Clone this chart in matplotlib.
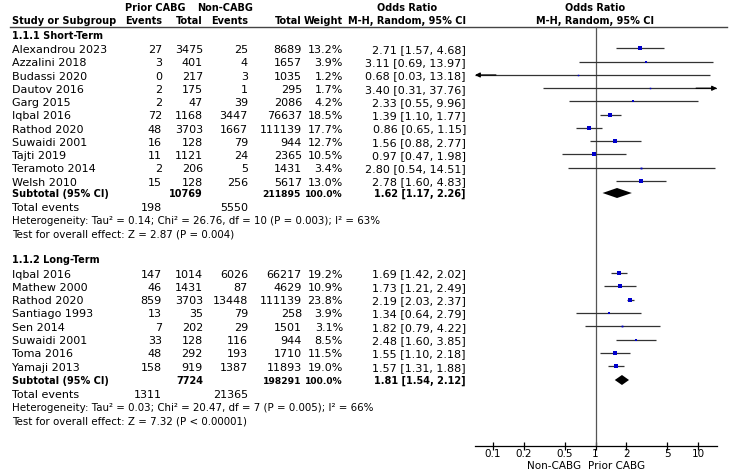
#!/usr/bin/env python3

import numpy as np
import matplotlib
matplotlib.use("Agg")
import matplotlib.pyplot as plt

# Short-term studies
short_names = ["Alexandrou 2023", "Azzalini 2018", "Budassi 2020", "Dautov 2016",
               "Garg 2015", "Iqbal 2016", "Rathod 2020", "Suwaidi 2001",
               "Tajti 2019", "Teramoto 2014", "Welsh 2010"]
short_ev_p = [27, 3, 0, 2, 2, 72, 48, 16, 11, 2, 15]
short_tot_p = [3475, 401, 217, 175, 47, 1168, 3703, 128, 1121, 206, 128]
short_ev_n = [25, 4, 3, 1, 39, 3447, 1667, 79, 24, 5, 256]
short_tot_n = [8689, 1657, 1035, 295, 2086, 76637, 111139, 944, 2365, 1431, 5617]
short_w = [13.2, 3.9, 1.2, 1.7, 4.2, 18.5, 17.7, 12.7, 10.5, 3.4, 13.0]
short_or = [2.71, 3.11, 0.68, 3.40, 2.33, 1.39, 0.86, 1.56, 0.97, 2.80, 2.78]
short_lo = [1.57, 0.69, 0.03, 0.31, 0.55, 1.10, 0.65, 0.88, 0.47, 0.54, 1.60]
short_hi = [4.68, 13.97, 13.18, 37.76, 9.96, 1.77, 1.15, 2.77, 1.98, 14.51, 4.83]
short_sub = (10769, 211895, 1.62, 1.17, 2.26)
short_events = (198, 5550)
short_het = "Heterogeneity: Tau\u00b2 = 0.14; Chi\u00b2 = 26.76, df = 10 (P = 0.003); I\u00b2 = 63%"
short_test = "Test for overall effect: Z = 2.87 (P = 0.004)"

# Long-term studies
long_names = ["Iqbal 2016", "Mathew 2000", "Rathod 2020", "Santiago 1993",
              "Sen 2014", "Suwaidi 2001", "Toma 2016", "Yamaji 2013"]
long_ev_p = [147, 46, 859, 13, 7, 33, 48, 158]
long_tot_p = [1014, 1431, 3703, 35, 202, 128, 292, 919]
long_ev_n = [6026, 87, 13448, 79, 29, 116, 193, 1387]
long_tot_n = [66217, 4629, 111139, 258, 1501, 944, 1710, 11893]
long_w = [19.2, 10.9, 23.8, 3.9, 3.1, 8.5, 11.5, 19.0]
long_or = [1.69, 1.73, 2.19, 1.34, 1.82, 2.48, 1.55, 1.57]
long_lo = [1.42, 1.21, 2.03, 0.64, 0.79, 1.60, 1.10, 1.31]
long_hi = [2.02, 2.49, 2.37, 2.79, 4.22, 3.85, 2.18, 1.88]
long_sub = (7724, 198291, 1.81, 1.54, 2.12)
long_events = (1311, 21365)
long_het = "Heterogeneity: Tau\u00b2 = 0.03; Chi\u00b2 = 20.47, df = 7 (P = 0.005); I\u00b2 = 66%"
long_test = "Test for overall effect: Z = 7.32 (P < 0.00001)"

tick_vals = [0.1, 0.2, 0.5, 1, 2, 5, 10]
tick_labels = ["0.1", "0.2", "0.5", "1", "2", "5", "10"]

W, H = 729, 473
FS = 8        # regular text
FSB = 7.0     # bold text (reference bold face is narrow)
FSN = 7.4     # heterogeneity / test lines
X_MIN, X_MAX = 0.0667, 15.3
AX_LEFT, AX_RIGHT, AX_Y = 475, 717, 446

fig = plt.figure(figsize=(W / 100, H / 100), dpi=100)
tx = fig.add_axes([0, 0, 1, 1])
tx.set_xlim(0, W)
tx.set_ylim(H, 0)
tx.axis('off')

fa = fig.add_axes([AX_LEFT / W, (H - AX_Y) / H, (AX_RIGHT - AX_LEFT) / W, AX_Y / H])
fa.set_xscale('log')
fa.set_xlim(X_MIN, X_MAX)
fa.set_ylim(AX_Y, 0)
fa.patch.set_alpha(0)
for s in ['top', 'left', 'right']:
    fa.spines[s].set_visible(False)
fa.spines['bottom'].set_linewidth(0.9)
fa.set_yticks([])
fa.set_xticks(tick_vals)
fa.set_xticklabels(tick_labels, fontsize=7.5)
fa.minorticks_off()
fa.tick_params(axis='x', direction='inout', length=6, width=0.9, pad=-1)

# column positions (right edges)
C_EVP, C_TOTP, C_EVN, C_TOTN, C_W, C_CI = 162, 203, 248, 302, 343, 466


def txt(x, y, s, ha='left', bold=False, size=None):
    if size is None:
        size = FSB if bold else FS
    tx.text(x, y, s, ha=ha, va='center', fontsize=size,
            fontweight='bold' if bold else 'normal', color='black')


# header
txt(155, 8, "Prior CABG", 'center', True)
txt(225, 8, "Non-CABG", 'center', True)
txt(407, 8, "Odds Ratio", 'center', True)
txt(595, 8, "Odds Ratio", 'center', True)
txt(12, 21.5, "Study or Subgroup", bold=True)
txt(C_EVP, 21.5, "Events", 'right', True)
txt(C_TOTP, 21.5, "Total", 'right', True)
txt(C_EVN, 21.5, "Events", 'right', True)
txt(C_TOTN, 21.5, "Total", 'right', True)
txt(C_W, 21.5, "Weight", 'right', True)
txt(407, 21.5, "M-H, Random, 95% CI", 'center', True)
txt(595, 21.5, "M-H, Random, 95% CI", 'center', True)
tx.plot([10, 727], [27.5, 27.5], color='#444444', lw=1.0)

# null line
fa.plot([1, 1], [27.5, AX_Y], color='#555555', lw=0.9)


def group(title, y_title, y0, step, names, evp, totp, evn, totn, w, orr, lo, hi,
          sub, events, het, test, y_sub, y_ev):
    txt(12, y_title, title, bold=True)
    for i, name in enumerate(names):
        y = y0 + step * i
        txt(12, y, name)
        txt(C_EVP, y, str(evp[i]), 'right')
        txt(C_TOTP, y, str(totp[i]), 'right')
        txt(C_EVN, y, str(evn[i]), 'right')
        txt(C_TOTN, y, str(totn[i]), 'right')
        txt(C_W, y, "%.1f%%" % w[i], 'right')
        txt(C_CI, y, "%.2f [%.2f, %.2f]" % (orr[i], lo[i], hi[i]), 'right')
        a, b = max(lo[i], X_MIN), min(hi[i], X_MAX)
        ym = y - 1.5
        fa.plot([a, b], [ym, ym], color='#333333', lw=0.9, solid_capstyle='butt')
        if lo[i] < X_MIN:
            fa.annotate('', xy=(X_MIN, ym), xytext=(X_MIN * 1.6, ym),
                        arrowprops=dict(arrowstyle='-|>', color='black', lw=0.9,
                                        mutation_scale=7, shrinkA=0, shrinkB=0))
        if hi[i] > X_MAX:
            fa.annotate('', xy=(X_MAX, ym), xytext=(X_MAX / 1.6, ym),
                        arrowprops=dict(arrowstyle='-|>', color='black', lw=0.9,
                                        mutation_scale=7, shrinkA=0, shrinkB=0))
        side = max(1.5, 5.0 * np.sqrt(w[i] / 23.8))
        fa.plot([orr[i]], [ym], marker='s', markersize=side * 0.72,
                color='#0000cc', markeredgewidth=0)
    # subtotal
    txt(12, y_sub, "Subtotal (95% CI)", bold=True)
    txt(C_TOTP, y_sub, str(sub[0]), 'right', True)
    txt(C_TOTN - 1, y_sub, str(sub[1]), 'right', True, size=6.6)
    txt(C_W, y_sub, "100.0%", 'right', True, size=6.6)
    txt(C_CI, y_sub, "%.2f [%.2f, %.2f]" % (sub[2], sub[3], sub[4]), 'right', True)
    yd = y_sub - 1
    fa.fill([sub[3], sub[2], sub[4], sub[2]], [yd, yd - 5, yd, yd + 5],
            color='black', lw=0)
    txt(12, y_ev, "Total events")
    txt(C_EVP, y_ev, str(events[0]), 'right')
    txt(C_EVN, y_ev, str(events[1]), 'right')
    txt(12, y_ev + 13, het, size=FSN)
    txt(12, y_ev + 26, test, size=FSN)


group("1.1.1 Short-Term", 36, 50, 13.25, short_names, short_ev_p, short_tot_p,
      short_ev_n, short_tot_n, short_w, short_or, short_lo, short_hi,
      short_sub, short_events, short_het, short_test, 194, 208)
group("1.1.2 Long-Term", 260, 274.5, 13.3, long_names, long_ev_p, long_tot_p,
      long_ev_n, long_tot_n, long_w, long_or, long_lo, long_hi,
      long_sub, long_events, long_het, long_test, 381, 395)

txt(581, 466, "Non-CABG", 'right', size=7.5)
txt(588, 466, "Prior CABG", 'left', size=7.5)

fig.savefig("out.png", dpi=100)
